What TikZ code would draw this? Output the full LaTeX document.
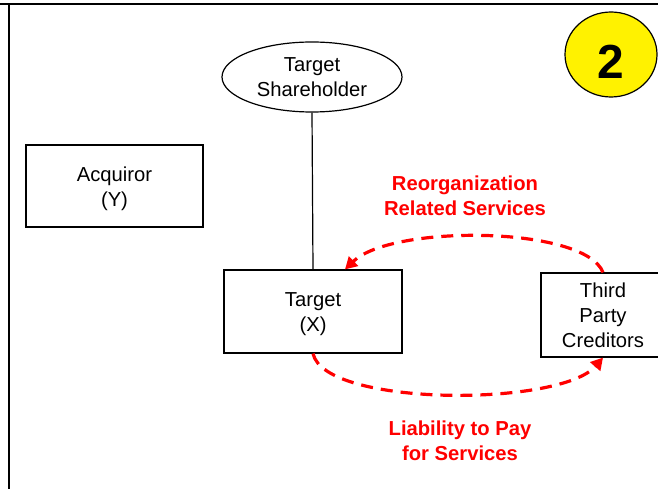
\documentclass[tikz,border=0pt]{standalone}
\usepackage{fontspec}
\setmainfont{Liberation Sans}
\usetikzlibrary{arrows.meta,shapes.geometric}
\newcommand{\topstrut}{\rule{0pt}{20bp}}
\begin{document}
\begin{tikzpicture}[x=1bp,y=-1bp,
  every node/.style={font=\fontsize{20.3}{25}\selectfont, align=center, inner sep=0pt},
  boxnode/.style={draw, line width=1.2bp, minimum width=178bp, minimum height=83bp},
  ellnode/.style={draw, ellipse, line width=1.2bp, minimum width=180bp, minimum height=70bp},
  redlabel/.style={text=red, font=\fontsize{20.3}{25}\selectfont\bfseries},
  flow/.style={draw=red, line width=3.2bp, dash pattern=on 12bp off 8bp, -{Triangle[length=12bp,width=13bp]}}
]
\useasboundingbox (0,0) rectangle (658,489);
\clip (0,0) rectangle (658,489);
% frame
\draw[line width=2.2bp] (0,4) -- (658,4);
\draw[line width=2.5bp] (9,4) -- (9,489);
% nodes
\node[ellnode] (sh) at (312,77) {Target\\Shareholder};
\node[boxnode, minimum width=177bp, minimum height=82bp] (acq) at (114.5,186) {\topstrut Acquiror\\(Y)};
\node[boxnode] (tgt) at (313,311.5) {\topstrut Target\\(X)};
\node[boxnode, minimum width=124bp, minimum height=84bp] (tpc) at (603,315) {Third\\Party\\Creditors};
\node[draw, ellipse, fill=yellow, line width=1.2bp, minimum width=92bp, minimum height=85bp,
      label={[font=\fontsize{48}{48}\selectfont\bfseries, yshift=-7bp]center:2}] (num) at (611,54.5) {};
% connector
\draw[line width=1.2bp] (sh.south) -- (tgt.north);
% dashed flows
\draw[flow] (tpc.north) .. controls (585,226) and (392,224) .. ([xshift=32bp]tgt.north);
\draw[flow] (tgt.south) .. controls (325,407) and (560,407) .. (tpc.south);
% labels
\node[redlabel] (lab1) at (465,196) {Reorganization\\Related Services};
\node[redlabel] (lab2) at (460,441) {Liability to Pay\\for Services};
\end{tikzpicture}
\end{document}
